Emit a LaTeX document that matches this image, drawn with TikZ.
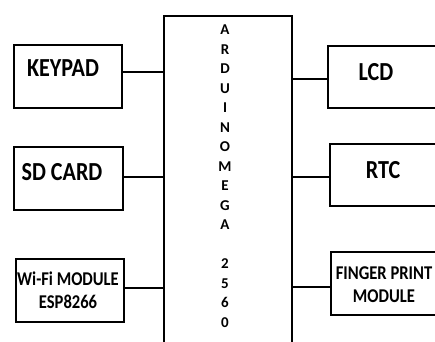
\documentclass[tikz,border=0pt]{standalone}
\usepackage{fontspec}
\setmainfont{Carlito}
\newfontfamily\narrowfont[FakeStretch=0.85]{Carlito}
\begin{document}
\begin{tikzpicture}[x=1pt,y=-1pt,
  blk/.style={draw=black, line width=2.3pt, rectangle, inner sep=0pt, anchor=north west},
  big/.style={font=\narrowfont\bfseries\fontsize{26}{26}\selectfont},
  mid/.style={font=\narrowfont\bfseries\fontsize{19.5}{23.5}\selectfont, align=center},
  wire/.style={line width=2.3pt}]
\useasboundingbox (0,0) rectangle (435,341);
\clip (0,0) rectangle (435,341);
% central board
\node[blk, minimum width=128pt, minimum height=340pt] (mega) at (163,15) {};
\node[font=\bfseries\fontsize{15}{19.5}\selectfont, align=center, anchor=north] (megatxt) at (225,21.5)
  {A\\R\\D\\U\\I\\N\\O\\M\\E\\G\\A\\[19.5pt]2\\5\\6\\0};
% left boxes
\node[blk, minimum width=108pt, minimum height=63pt] (kp) at (13,44) {};
\node[big] (kptxt) at (63,68) {KEYPAD};
\node[blk, minimum width=109pt, minimum height=63pt] (sd) at (13,146) {};
\node[big] (sdtxt) at (62,172) {SD CARD};
\node[blk, minimum width=108pt, minimum height=63pt] (wf) at (15,258) {};
\node[mid] (wftxt) at (68,290) {Wi-Fi MODULE\\ESP8266};
% right boxes
\node[blk, minimum width=108pt, minimum height=62pt] (lcd) at (327,45) {};
\node[big] (lcdtxt) at (376,72) {LCD};
\node[blk, minimum width=106.5pt, minimum height=62pt] (rtc) at (329,143) {};
\node[big] (rtctxt) at (383,170) {RTC};
\node[blk, minimum width=105.5pt, minimum height=63pt] (fp) at (330,251) {};
\node[mid] (fptxt) at (384,284.5) {FINGER PRINT\\MODULE};
% connectors
\draw[wire] (kp.east |- 0,72) -- (mega.west |- 0,72);
\draw[wire] (sd.east |- 0,177) -- (mega.west |- 0,177);
\draw[wire] (wf.east |- 0,288) -- (mega.west |- 0,288);
\draw[wire] (mega.east |- 0,79) -- (lcd.west |- 0,79);
\draw[wire] (mega.east |- 0,177) -- (rtc.west |- 0,177);
\draw[wire] (mega.east |- 0,287) -- (fp.west |- 0,287);
\end{tikzpicture}
\end{document}
